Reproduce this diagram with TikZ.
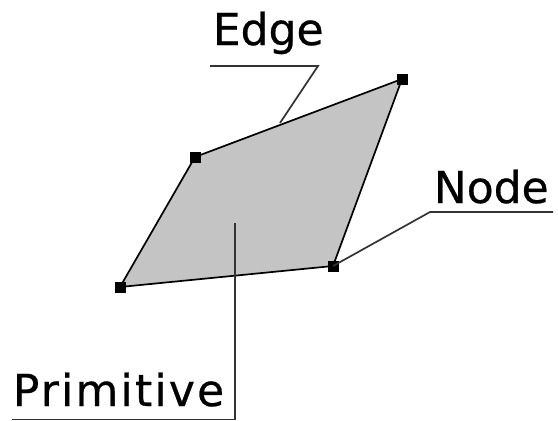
\documentclass[tikz,border=0pt]{standalone}
\usepackage{fontspec}
\setmainfont{DejaVu Sans}[FakeBold=0.6]
\usetikzlibrary{positioning}
\definecolor{facegray}{RGB}{196,196,196}

\begin{document}
\begin{tikzpicture}[x=1pt, y=-1pt, line width=1.7pt,
  vertex/.style={rectangle, fill=black, inner sep=0pt, minimum size=11pt},
  tag/.style={anchor=base west, inner sep=0pt, font=\fontsize{44}{44}\selectfont},
  leader/.style={line width=1.7pt, black!80}]
  \useasboundingbox (0,0) rectangle (558,421);
  % corners of the primitive
  \coordinate (TL) at (195,157);
  \coordinate (TR) at (402,79);
  \coordinate (BR) at (333,266);
  \coordinate (BL) at (120,287);
  \draw[fill=facegray] (TL) -- (TR) -- (BR) -- (BL) -- cycle;
  \foreach \c in {TL,TR,BR,BL}
    \node[vertex] (v\c) at (\c) {};
  % labels
  \node[tag] (edge) at (212,45) {Edge};
  \node[tag] (node) at (433,203) {Node};
  \node[tag, font=\fontsize{44}{44}\selectfont\addfontfeature{LetterSpace=5}] (prim) at (12,406) {Primitive};
  % leaders
  \coordinate (e1) at (210,66);
  \coordinate (e2) at (318,66);
  \coordinate (e3) at (280,123);
  \coordinate (n1) at (553,212);
  \coordinate (n2) at (430,212);
  \coordinate (p1) at (235,223);
  \coordinate (p2) at (235,419.5);
  \coordinate (p3) at (12,419.5);
  \draw[leader] (e1) -- (e2) -- (e3);
  \draw[leader] (n1) -- (n2) -- (vBR.center);
  \draw[leader] (p1) -- (p2) -- (p3);
\end{tikzpicture}
\end{document}
